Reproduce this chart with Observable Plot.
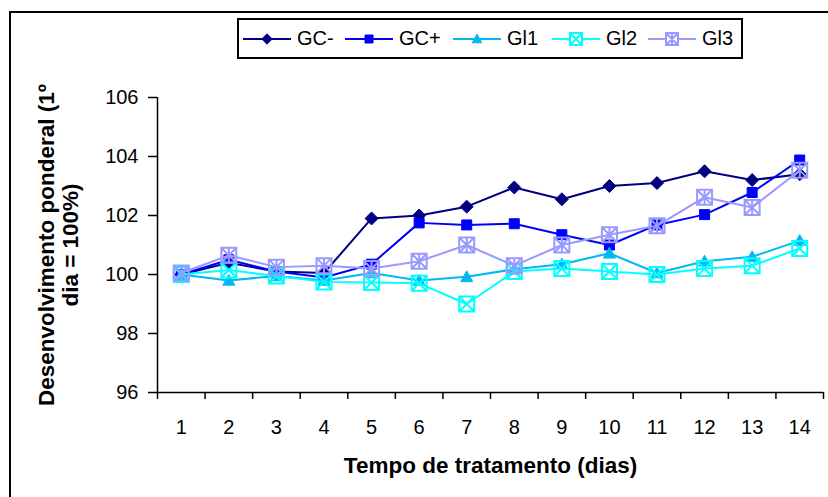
<!DOCTYPE html>
<html>
<head>
<meta charset="utf-8">
<script src="https://cdn.jsdelivr.net/npm/d3@7"></script>
<script src="https://cdn.jsdelivr.net/npm/@observablehq/plot@0.6"></script>
<style>
  html, body { margin: 0; padding: 0; background: #fff; }
  #wrap { position: relative; width: 828px; height: 497px; overflow: hidden; background: #fff;
          font-family: "Liberation Sans", Arial, sans-serif; }
  #outer { position: absolute; left: 9px; top: 11px; width: 840px; height: 520px; border: 2px solid #000; box-sizing: border-box; }
  #chart { position: absolute; left: 0; top: 0; }
  #legend { position: absolute; left: 237px; top: 18px; width: 506px; height: 41px; border: 2px solid #000;
            box-sizing: border-box; background: #fff; }
  .item { position: absolute; top: 0; height: 37px; display: flex; align-items: center; font-size: 20px; color: #000; white-space: nowrap; }
  .item svg { margin-right: 6px; }
</style>
</head>
<body>
<div id="wrap">
  <div id="outer"></div>
  <div id="chart"></div>
  <div id="legend"></div>
</div>
<script>
// ---- data ----
const days = [1, 2, 3, 4, 5, 6, 7, 8, 9, 10, 11, 12, 13, 14];
const seriesNames = ["GC-", "GC+", "Gl1", "Gl2", "Gl3"];
const gcNeg = [100.0, 100.4, 100.1, 100.05, 101.9, 102.0, 102.3, 102.95, 102.55, 103.0, 103.1, 103.5, 103.2, 103.4];
const gcPos = [100.0, 100.5, 100.1, 99.9, 100.35, 101.75, 101.68, 101.72, 101.35, 101.0, 101.68, 102.03, 102.78, 103.88];
const gl1 = [100.0, 99.8, 99.95, 99.8, 100.05, 99.8, 99.92, 100.18, 100.35, 100.72, 100.05, 100.45, 100.6, 101.15];
const gl2 = [100.0, 100.15, 99.95, 99.75, 99.73, 99.7, 99.0, 100.1, 100.2, 100.1, 100.0, 100.2, 100.3, 100.88];
const gl3 = [100.05, 100.65, 100.25, 100.3, 100.2, 100.45, 101.0, 100.3, 101.0, 101.35, 101.65, 102.62, 102.27, 103.53];
const yTicks = [96, 98, 100, 102, 104, 106];
const xLabel = "Tempo de tratamento (dias)";
const yLabel = "Desenvolvimento ponderal (1º\ndia = 100%)";

// ---- symbols ----
const diamondSym = { draw(c, size) { const r = Math.sqrt(size / Math.PI);
  c.moveTo(0, -r); c.lineTo(r, 0); c.lineTo(0, r); c.lineTo(-r, 0); c.closePath(); } };
const squareSym = { draw(c, size) { const r = Math.sqrt(size / Math.PI); c.rect(-r, -r, 2 * r, 2 * r); } };
const triSym = { draw(c, size) { const r = Math.sqrt(size / Math.PI);
  c.moveTo(0, -r); c.lineTo(r, r * 0.8); c.lineTo(-r, r * 0.8); c.closePath(); } };
const boxXSym = { draw(c, size) { const r = Math.sqrt(size / Math.PI);
  c.rect(-r, -r, 2 * r, 2 * r); c.moveTo(-r, -r); c.lineTo(r, r); c.moveTo(r, -r); c.lineTo(-r, r); } };
const boxAstSym = { draw(c, size) { const r = Math.sqrt(size / Math.PI);
  c.rect(-r, -r, 2 * r, 2 * r); c.moveTo(-r, -r); c.lineTo(r, r); c.moveTo(r, -r); c.lineTo(-r, r);
  c.moveTo(0, -r); c.lineTo(0, r); } };

const series = [
  { name: seriesNames[0], values: gcNeg, color: "#000080", sym: diamondSym, r: 6.5, filled: true },
  { name: seriesNames[1], values: gcPos, color: "#0000ff", sym: squareSym, r: 5, filled: true },
  { name: seriesNames[2], values: gl1, color: "#00b8f2", sym: triSym, r: 6, filled: true },
  { name: seriesNames[3], values: gl2, color: "#00ffff", sym: boxXSym, r: 7.5, filled: false },
  { name: seriesNames[4], values: gl3, color: "#9999ff", sym: boxAstSym, r: 7.5, filled: false }
];
const legendLefts = [4, 106, 214, 313, 409];

const xDomain = [days[0] - 0.5, days[days.length - 1] + 0.5];
const bounds = d3.range(xDomain[0], xDomain[1] + 0.01, 1);

const marks = [
  Plot.ruleX([xDomain[0]], { y1: yTicks[0], y2: yTicks[yTicks.length - 1], stroke: "#000", strokeWidth: 1.5 }),
  Plot.ruleY([yTicks[0]], { stroke: "#000", strokeWidth: 1.5 }),
  Plot.axisY({ ticks: yTicks, tickSize: 9, tickPadding: 10, label: null, fontSize: 20, strokeWidth: 1.5 }),
  Plot.axisX({ ticks: bounds, tickSize: 7, fill: "none", label: null, strokeWidth: 1.5 }),
  Plot.axisX({ ticks: days, tickSize: 0, tickPadding: 27, label: null, fontSize: 20, tickFormat: d => String(d) }),
  Plot.text([xLabel], { frameAnchor: "bottom", textAnchor: "middle", lineAnchor: "middle", dy: 73, fontWeight: "bold", fontSize: 22.5 }),
  Plot.text([yLabel], { frameAnchor: "left", textAnchor: "middle", lineAnchor: "middle", rotate: -90, dx: -99, fontWeight: "bold", fontSize: 22.5, lineHeight: 1.08 })
];
for (const s of series) {
  const data = days.map((d, i) => ({ day: d, v: s.values[i] }));
  marks.push(Plot.line(data, { x: "day", y: "v", stroke: s.color, strokeWidth: 2 }));
  marks.push(Plot.dot(data, { x: "day", y: "v", symbol: s.sym, r: s.r,
    fill: s.filled ? s.color : "none", stroke: s.color, strokeWidth: s.filled ? 1 : 2 }));
}

const chart = Plot.plot({
  width: 828, height: 497,
  marginLeft: 157, marginRight: 5, marginTop: 97, marginBottom: 105,
  x: { domain: xDomain },
  y: { domain: [yTicks[0], yTicks[yTicks.length - 1]] },
  style: { fontFamily: "'Liberation Sans', Arial, sans-serif", color: "#000", background: "transparent", overflow: "visible" },
  marks
});
document.getElementById("chart").appendChild(chart);

// ---- legend ----
const legend = d3.select("#legend");
series.forEach((s, i) => {
  const item = legend.append("div").attr("class", "item").style("left", legendLefts[i] + "px");
  const svg = item.append("svg").attr("width", 48).attr("height", 20);
  svg.append("line").attr("x1", 0).attr("x2", 48).attr("y1", 10).attr("y2", 10)
    .attr("stroke", s.color).attr("stroke-width", 2);
  const rr = s.r * 0.8;
  svg.append("path").attr("transform", "translate(24,10)")
    .attr("d", d3.symbol(s.sym, Math.PI * rr * rr)())
    .attr("fill", s.filled ? s.color : "#fff").attr("stroke", s.color).attr("stroke-width", s.filled ? 1 : 2);
  item.append("span").text(s.name);
});
</script>
</body>
</html>
